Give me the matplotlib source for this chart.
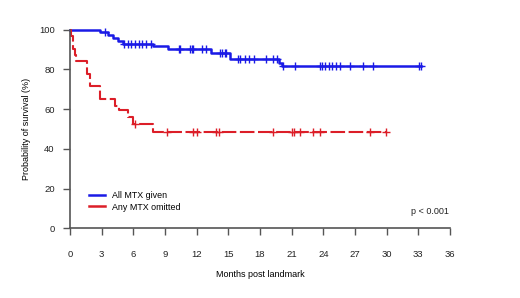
import numpy as np
import matplotlib as mpl
import matplotlib.pyplot as plt

mpl.rcParams.update({
    "font.family": "sans-serif",
    "font.sans-serif": ["Liberation Sans", "DejaVu Sans"],
})

# step functions: event time (months), survival (%) after it
blue_times = [0, 2.8, 3.6, 4.1, 4.5, 5.0, 7.9, 9.3, 13.4, 15.2, 19.8, 20.1]
blue_surv = [100, 98.6, 97.2, 95.8, 94.3, 92.9, 91.6, 90.1, 88.4, 85.4, 83.4, 81.5]
blue_cens = [3.3, 5.1, 5.5, 5.8, 6.2, 6.5, 6.8, 7.2, 7.7, 10.3, 10.4, 11.4, 11.6,
             11.7, 12.5, 12.9, 14.2, 14.4, 14.7, 14.8, 15.9, 16.1, 16.6, 17.0,
             17.4, 18.6, 19.2, 19.6, 20.2, 21.3, 23.7, 23.9, 24.2, 24.5, 24.8,
             25.2, 25.6, 26.5, 27.8, 28.7, 33.1, 33.3]

red_times = [0, 0.1, 0.25, 0.5, 0.6, 1.6, 1.9, 2.8, 4.3, 4.6, 5.5, 6.0, 7.9]
red_surv = [100, 96.8, 90.3, 87.1, 84.4, 77.5, 71.5, 65.0, 61.5, 59.5, 55.8, 52.3, 48.6]
red_cens = [6.2, 9.2, 11.7, 12.0, 13.8, 14.1, 19.2, 21.0, 21.2, 21.8, 23.0,
            23.7, 28.4, 29.9]

x_ticks = np.arange(0, 37, 3)
y_ticks = [0, 20, 40, 60, 80, 100]

BLUE = "#1a1ae6"
RED = "#dc1e28"
GREY = "#555555"


def surv_at(times, surv, t):
    idx = np.searchsorted(times, t, side="right") - 1
    return np.asarray(surv)[idx]


def draw_km(ax, times, surv, cens, color, ls, lw, label):
    t = list(times) + [max(cens)]
    s = list(surv) + [surv[-1]]
    ax.step(t, s, where="post", color=color, ls=ls, lw=lw, label=label,
            clip_on=False)
    ax.plot(cens, surv_at(times, surv, cens), ls="none", marker="+",
            ms=6, mew=1, color=color, clip_on=False)


fig = plt.figure(figsize=(5.2, 2.98), dpi=100)
ax = fig.add_axes([70 / 520, 1 - 228.3 / 298, 380 / 520, (228.3 - 29.5) / 298])

draw_km(ax, blue_times, blue_surv, blue_cens, BLUE, "-", 1.8, "All MTX given")
draw_km(ax, red_times, red_surv, red_cens, RED, (0, (7, 1.7)), 1.5, "Any MTX omitted")

ax.set_xlim(0, 36)
ax.set_ylim(0, 100)
ax.set_xticks(x_ticks)
ax.set_yticks(y_ticks)
ax.tick_params(axis="both", direction="out", length=5, width=1, color=GREY,
               labelsize=6.8, labelcolor="#222222")
ax.tick_params(axis="x", pad=10.5)
ax.tick_params(axis="y", pad=6)

for side in ["top", "right"]:
    ax.spines[side].set_visible(False)
for side in ["left", "bottom"]:
    ax.spines[side].set_color(GREY)
    ax.spines[side].set_linewidth(1.2)

ax.set_xlabel("Months post landmark", fontsize=6.5, labelpad=8)
ax.set_ylabel("Probability of survival (%)", fontsize=6.5, labelpad=6)

handles, labels = ax.get_legend_handles_labels()
leg = ax.legend([plt.Line2D([], [], color=BLUE, lw=1.8),
                 plt.Line2D([], [], color=RED, lw=1.8)], labels,
                loc="center left", bbox_to_anchor=(0.039, 0.135), frameon=False,
                fontsize=6.4, handlelength=1.75, handletextpad=0.85,
                labelspacing=0.25, borderpad=0)

ax.text(0.998, 0.082, "p < 0.001", transform=ax.transAxes, ha="right",
        va="center", fontsize=6.5, color="#222222")

fig.savefig("out.png", dpi=100)
